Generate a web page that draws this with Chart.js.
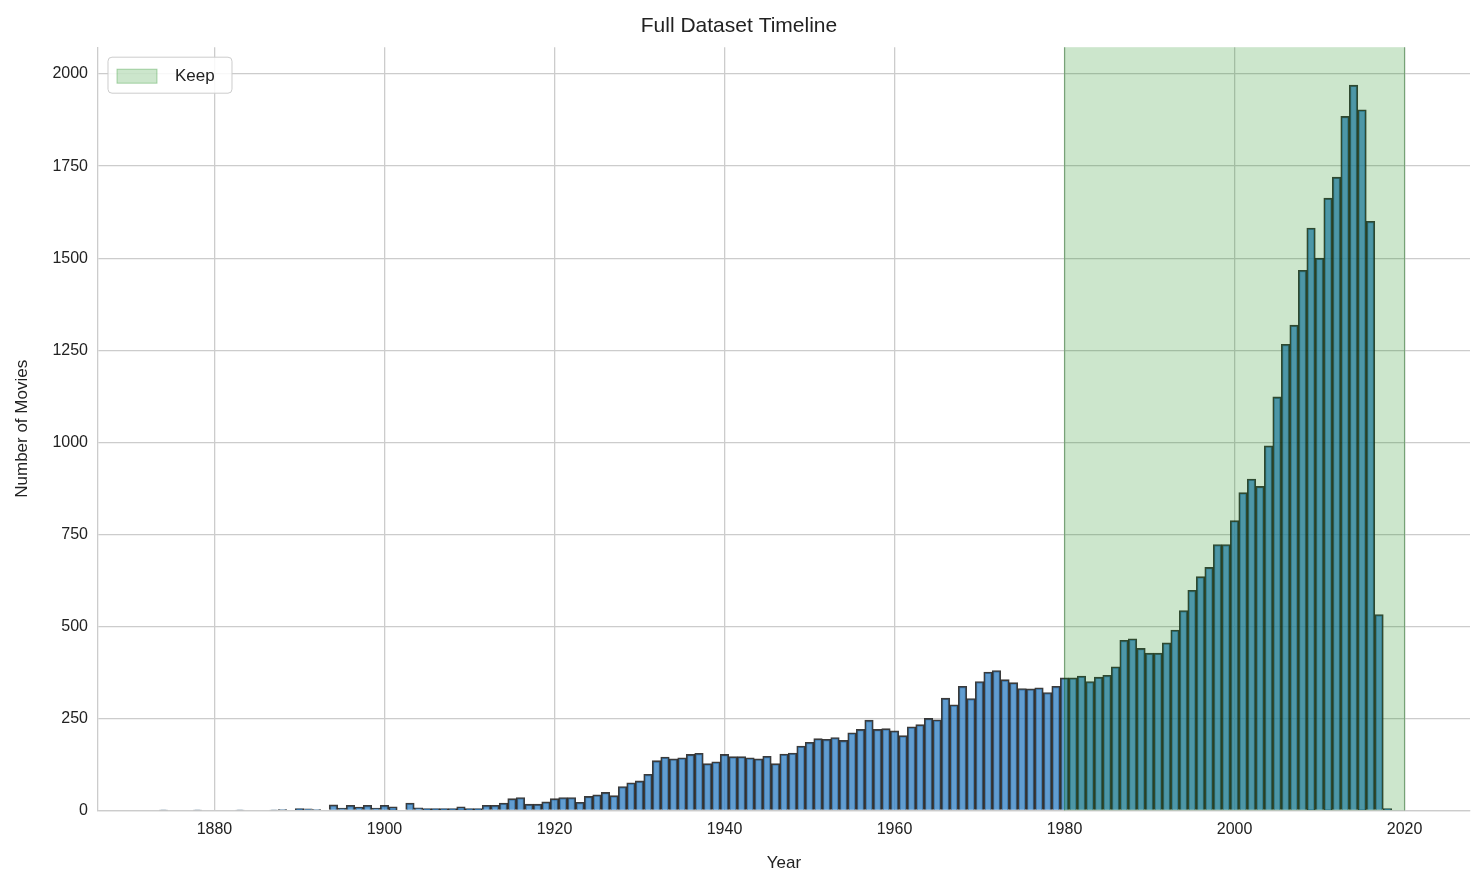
<!DOCTYPE html>
<html><head><meta charset="utf-8">
<script src="https://cdn.jsdelivr.net/npm/chart.js@4/dist/chart.umd.min.js"></script>
<style>html,body{margin:0;background:#fff}#w{width:1484px;height:884px}</style>
</head><body><div id="w"><canvas id="c"></canvas></div>
<script>
const startYear = 1874;
const counts = [1,0,0,0,1,0,0,0,0,1,0,0,0,1,2,0,5,4,2,0,15,6,14,9,14,6,14,10,0,20,7,5,5,5,5,10,5,5,14,14,20,32,35,17,17,23,32,35,35,22,38,42,49,40,65,75,80,98,135,145,140,143,152,155,127,132,152,146,146,143,140,147,127,153,156,175,185,195,193,198,190,211,220,245,220,222,216,203,227,233,250,246,305,287,337,304,350,376,380,355,347,331,330,333,320,337,360,360,365,350,362,367,390,462,466,440,427,427,455,490,543,598,635,660,722,722,787,863,900,880,990,1123,1266,1318,1467,1582,1500,1663,1720,1885,1970,1903,1600,532,5];
const years = counts.map((_, i) => startYear + i);
const keepRange = [1980, 2020];
const keepLabel = 'Keep';
const xTicks = [1880,1900,1920,1940,1960,1980,2000,2020];
const yTicks = [0,250,500,750,1000,1250,1500,1750,2000];

const FONT = 'Liberation Sans';
const spanPlugin = {
  id: 'span',
  afterDatasetsDraw(chart) {
    const {ctx, chartArea: a, scales: {x}} = chart;
    const x0 = x.getPixelForValue(keepRange[0]), x1 = x.getPixelForValue(keepRange[1]);
    ctx.save();
    ctx.fillStyle = 'rgba(0,128,0,0.2)';
    ctx.fillRect(x0, a.top, x1 - x0, a.bottom - a.top);
    ctx.strokeStyle = 'rgba(0,100,0,0.35)';
    ctx.lineWidth = 1.2;
    ctx.beginPath(); ctx.moveTo(x0, a.top); ctx.lineTo(x0, a.bottom);
    ctx.moveTo(x1, a.top); ctx.lineTo(x1, a.bottom); ctx.stroke();
    const lx = a.left + 10, ly = a.top + 10;
    ctx.fillStyle = 'rgba(255,255,255,0.85)';
    ctx.strokeStyle = '#ccc'; ctx.lineWidth = 1;
    ctx.beginPath(); ctx.roundRect(lx, ly, 124, 36, 4); ctx.fill(); ctx.stroke();
    ctx.fillStyle = 'rgba(0,128,0,0.2)';
    ctx.fillRect(lx + 9, ly + 12, 40, 14);
    ctx.strokeStyle = 'rgba(0,128,0,0.3)';
    ctx.strokeRect(lx + 9, ly + 12, 40, 14);
    ctx.fillStyle = '#222'; ctx.font = '17px ' + FONT; ctx.textBaseline = 'middle';
    ctx.fillText(keepLabel, lx + 67, ly + 19);
    ctx.restore();
  }
};

new Chart(document.getElementById('c'), {
  type: 'bar',
  data: { datasets: [{
    data: years.map((y, i) => ({x: y, y: counts[i]})),
    backgroundColor: 'rgba(52,130,196,0.78)',
    borderColor: 'rgba(25,25,25,0.85)',
    borderWidth: 1.6,
    barPercentage: 1, categoryPercentage: 1
  }]},
  options: {
    responsive: true, maintainAspectRatio: false, animation: false,
    layout: {padding: {left: 8, right: 14, top: 4, bottom: 6}},
    plugins: {
      legend: {display: false}, tooltip: {enabled: false},
      title: {display: true, text: 'Full Dataset Timeline', color: '#222', font: {family: FONT, size: 21, weight: 'normal'}, padding: {top: 10, bottom: 8}}
    },
    scales: {
      x: {type: 'linear', min: 1866.3, max: 2027.7, offset: false,
        afterBuildTicks: s => { s.ticks = xTicks.map(v => ({value: v})); },
        grid: {color: '#cccccc', lineWidth: 1.3, drawTicks: false, offset: false},
        border: {color: '#cccccc', width: 1.3},
        ticks: {color: '#222', font: {family: FONT, size: 16}, padding: 10, callback: v => String(v)},
        title: {display: true, text: 'Year', color: '#222', font: {family: FONT, size: 17}, padding: {top: 4}}
      },
      y: {min: 0, max: 2073,
        afterBuildTicks: s => { s.ticks = yTicks.map(v => ({value: v})); },
        grid: {color: '#cccccc', lineWidth: 1.3, drawTicks: false},
        border: {color: '#cccccc', width: 1.3},
        ticks: {color: '#222', font: {family: FONT, size: 16}, padding: 10, callback: v => String(v)},
        title: {display: true, text: 'Number of Movies', color: '#222', font: {family: FONT, size: 17}, padding: {bottom: 10}}
      }
    }
  },
  plugins: [spanPlugin]
});
</script></body></html>
